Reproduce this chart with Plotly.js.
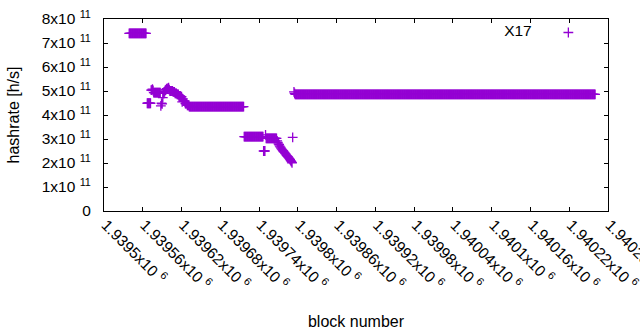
<!DOCTYPE html>
<html>
<head>
<meta charset="utf-8">
<script src="https://cdn.plot.ly/plotly-3.0.1.min.js"></script>
<style>html,body{margin:0;padding:0;background:#fff;}#chart{width:640px;height:330px;}</style>
</head>
<body>
<div id="chart"></div>
<script>
// Runs of consecutive blocks sharing one hashrate value (units of 1e11 h/s)
const runStart = [1939539,1939567,1939573,1939575,1939576,1939577,1939588,1939589,1939590,1939591,1939592,1939594,1939595,1939596,1939597,1939598,1939599,1939600,1939601,1939602,1939607,1939610,1939613,1939616,1939619,1939621,1939622,1939623,1939626,1939629,1939632,1939717,1939747,1939750,1939751,
  1939768,1939769,1939770,1939771,1939772,1939773,1939774,1939775,1939776,1939777,1939778,1939779,1939780,1939781,1939782,1939783,1939784,1939785,1939786,1939787,1939788,1939789,1939790,1939791,
  1939792,1939794,1939795,1939796];
const runEnd   = [1939565,1939572,1939574,1939575,1939576,1939587,1939588,1939589,1939590,1939591,1939593,1939594,1939595,1939596,1939597,1939598,1939599,1939600,1939601,1939606,1939609,1939612,1939615,1939618,1939620,1939621,1939622,1939625,1939628,1939631,1939716,1939746,1939749,1939750,1939767,
  1939768,1939769,1939770,1939771,1939772,1939773,1939774,1939775,1939776,1939777,1939778,1939779,1939780,1939781,1939782,1939783,1939784,1939785,1939786,1939787,1939788,1939789,1939790,1939791,
  1939792,1939794,1939795,1940260];
const runValue = [7.40,4.49,5.04,5.08,5.02,4.93,4.38,4.49,4.46,4.72,4.90,4.98,5.04,5.06,5.10,5.08,5.12,5.14,5.06,5.00,4.96,4.90,4.86,4.80,4.76,4.55,4.67,4.58,4.48,4.40,4.35,3.10,2.50,3.17,3.03,
  2.92,2.86,2.80,2.76,2.70,2.66,2.62,2.58,2.55,2.51,2.48,2.44,2.41,2.38,2.34,2.31,2.28,2.25,2.21,2.18,2.14,2.10,2.06,2.01,
  3.07,4.96,4.90,4.86];

const seriesName = "X17";
const xTickVals = [1939500,1939560,1939620,1939680,1939740,1939800,1939860,1939920,1939980,1940040,1940100,1940160,1940220,1940280];
const xTickMant = ["1.9395","1.93956","1.93962","1.93968","1.93974","1.9398","1.93986","1.93992","1.93998","1.94004","1.9401","1.94016","1.94022","1.94028"];
const yTickVals = [0,1,2,3,4,5,6,7,8];
const yTickMant = ["0","1","2","3","4","5","6","7","8"];

const xs = [], ys = [];
for (let i = 0; i < runStart.length; i++) {
  for (let b = runStart[i]; b <= runEnd[i]; b++) { xs.push(b); ys.push(runValue[i] * 1e11); }
}

const purple = "#9400d3";
const fam = "Liberation Sans, Arial, sans-serif";
const font = {family: fam, size: 15.5, color: "#000"};

const trace = {
  type: "scatter", mode: "markers", x: xs, y: ys, name: "", showlegend: true,
  marker: {symbol: "cross-thin", size: 7, color: purple, line: {color: purple, width: 1.3}},
  hoverinfo: "skip"
};

const layout = {
  width: 640, height: 330,
  margin: {l: 104, r: 32, t: 19, b: 119},
  paper_bgcolor: "#fff", plot_bgcolor: "#fff",
  font: font,
  showlegend: true,
  legend: {x: 0.79, y: 1.016, xanchor: "left", yanchor: "top", bgcolor: "rgba(0,0,0,0)",
           title: {text: seriesName + "\u00a0\u00a0", side: "left", font: font}, font: font, itemwidth: 30},
  xaxis: {
    range: [xTickVals[0], xTickVals[xTickVals.length-1]],
    tickvals: xTickVals, ticktext: xTickMant.map(m => m + "x10 <sup>6</sup>"),
    tickangle: 45, ticks: "inside", ticklen: 4, tickcolor: "#000",
    ticklabelstandoff: -2, ticklabelshift: 2, ticklabeloverflow: "allow",
    showline: true, linecolor: "#000", linewidth: 1, mirror: "ticks",
    showgrid: false, zeroline: false, automargin: false,
    title: {text: "block number", font: {family: fam, size: 16, color: "#000"}, standoff: 25},
    tickfont: font
  },
  yaxis: {
    range: [0, 8e11],
    tickvals: yTickVals.map(v => v * 1e11),
    ticktext: yTickMant.map(m => m === "0" ? "0" : m + "x10 <sup>11</sup>"),
    ticks: "inside", ticklen: 4, tickcolor: "#000",
    ticklabelstandoff: 9,
    showline: true, linecolor: "#000", linewidth: 1, mirror: "ticks",
    showgrid: false, zeroline: false, automargin: false,
    title: {text: "hashrate [h/s]", font: {family: fam, size: 16, color: "#000"}, standoff: 18},
    tickfont: font
  }
};

Plotly.newPlot("chart", [trace], layout, {displayModeBar: false, staticPlot: true});
</script>
</body>
</html>
